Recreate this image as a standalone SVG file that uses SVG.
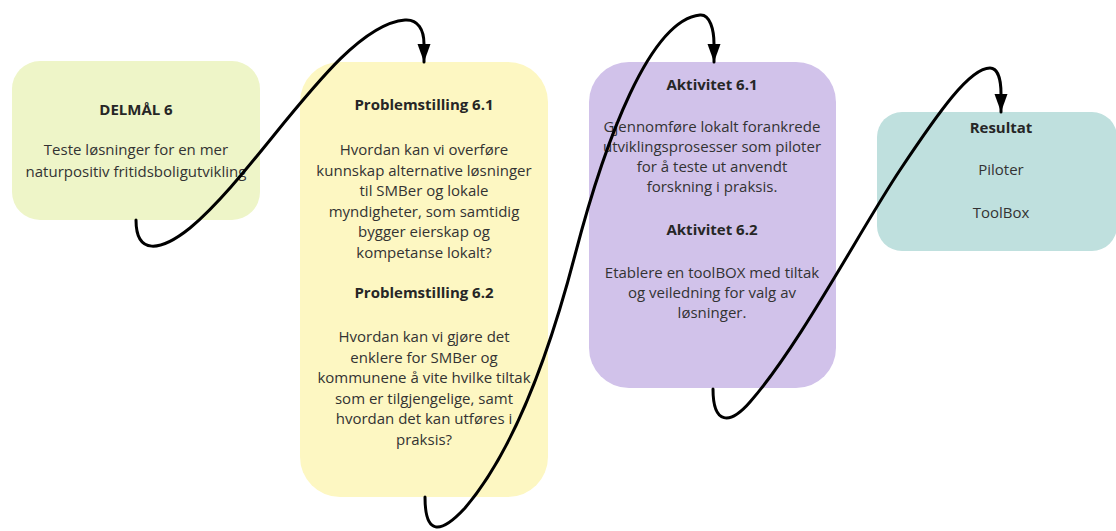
<svg xmlns="http://www.w3.org/2000/svg" width="1116" height="531" viewBox="0 0 1116 531">
<style>
  .t { font-family: "Open Sans", "Liberation Sans", sans-serif; font-size: 15px; fill: #333333; text-anchor: middle; }
  .b { font-weight: bold; fill: #262626; }
  .c { fill: none; stroke: #000000; stroke-width: 3; stroke-linecap: round; marker-end: url(#arr); }
</style>
<defs>
  <marker id="arr" markerUnits="userSpaceOnUse" markerWidth="20" markerHeight="14" refX="18" refY="6.5" orient="auto">
    <path d="M0,0 L18,6.5 L0,13 z" fill="#000000"/>
  </marker>
</defs>
<rect width="1116" height="531" fill="#ffffff"/>
<g id="delmal">
  <rect x="12" y="61" width="248" height="159" rx="28" fill="#EEF5C8"/>
  <text class="t b" x="136" y="115">DELMÅL 6</text>
  <text class="t" x="136" y="155">Teste løsninger for en mer</text>
  <text class="t" x="136" y="177">naturpositiv fritidsboligutvikling</text>
</g>
<g id="problemstilling">
  <rect x="300" y="62" width="248" height="435" rx="40" fill="#FDF7C2"/>
  <text class="t b" x="424" y="110">Problemstilling 6.1</text>
  <text class="t" x="424" y="155">Hvordan kan vi overføre</text>
  <text class="t" x="424" y="175.5">kunnskap alternative løsninger</text>
  <text class="t" x="424" y="196">til SMBer og lokale</text>
  <text class="t" x="424" y="216.5">myndigheter, som samtidig</text>
  <text class="t" x="424" y="237">bygger eierskap og</text>
  <text class="t" x="424" y="257.5">kompetanse lokalt?</text>
  <text class="t b" x="424" y="298">Problemstilling 6.2</text>
  <text class="t" x="424" y="342">Hvordan kan vi gjøre det</text>
  <text class="t" x="424" y="362.5">enklere for SMBer og</text>
  <text class="t" x="424" y="383">kommunene å vite hvilke tiltak</text>
  <text class="t" x="424" y="403.5">som er tilgjengelige, samt</text>
  <text class="t" x="424" y="424">hvordan det kan utføres i</text>
  <text class="t" x="424" y="444.5">praksis?</text>
</g>
<g id="aktivitet">
  <rect x="589" y="62" width="247" height="326" rx="40" fill="#D1C2EA"/>
  <text class="t b" x="712" y="90">Aktivitet 6.1</text>
  <text class="t" x="712" y="132">Gjennomføre lokalt forankrede</text>
  <text class="t" x="712" y="152">utviklingsprosesser som piloter</text>
  <text class="t" x="712" y="172">for å teste ut anvendt</text>
  <text class="t" x="712" y="192">forskning i praksis.</text>
  <text class="t b" x="712" y="235">Aktivitet 6.2</text>
  <text class="t" x="712" y="278">Etablere en toolBOX med tiltak</text>
  <text class="t" x="712" y="298">og veiledning for valg av</text>
  <text class="t" x="712" y="318">løsninger.</text>
</g>
<g id="resultat">
  <rect x="877" y="112" width="240" height="139" rx="25" fill="#BFE0DE"/>
  <text class="t b" x="1001" y="133">Resultat</text>
  <text class="t" x="1001" y="175">Piloter</text>
  <text class="t" x="1001" y="218">ToolBox</text>
</g>
<g id="connectors">
  <path class="c" d="M136,220 C136,255 160,252 190,228 C260,170 340,25 405,20 C418,19 424,30 424,44 L424,62"/>
  <path class="c" d="M425,497 C425,535 440,535 465,508 C510,455 545,370 575,255 C605,140 650,20 700,15 C710,14 714,30 714,44 L714,62"/>
  <path class="c" d="M713,389 C713,425 730,425 750,402 C800,345 860,230 900,170 C940,110 970,68 990,68 C998,68 1001,80 1001,94 L1001,112"/>
</g>
</svg>
